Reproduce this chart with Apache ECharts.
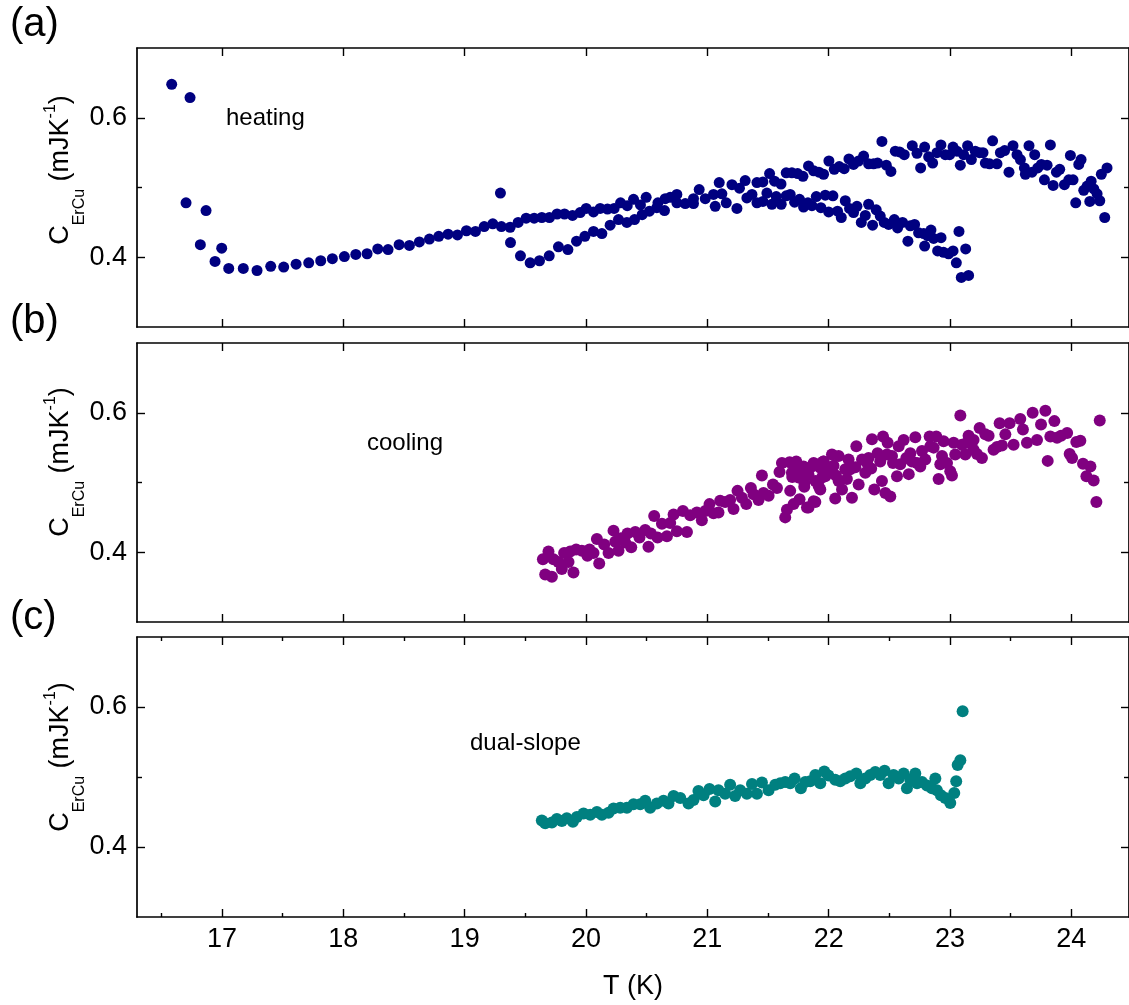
<!DOCTYPE html>
<html><head><meta charset="utf-8">
<script src="https://cdn.jsdelivr.net/npm/echarts@6/dist/echarts.min.js"></script>
<style>html,body{margin:0;padding:0;background:#fff}#c{width:1129px;height:1005px}</style>
</head><body><div id="c"></div>
<script>
// ---------- data ----------
const heatingT = [16.586,16.737,16.704,16.869,16.822,16.998,16.943,17.056,17.176,17.289,17.402,17.509,17.611,17.715,17.814,17.910,18.009,18.103,18.196,18.284,18.369,18.460,18.545,18.627,18.710,18.787,18.864,18.941,19.015,19.089,19.161,19.232,19.295,19.303,19.375,19.441,19.507,19.573,19.636,19.699,19.762,19.823,19.889,19.952,20.002,20.062,20.117,20.177,20.232,20.285,20.340,20.392,20.449,20.496,
20.593,20.653,20.694,20.749,20.749,20.818,20.886,20.886,20.933,20.983,21.051,21.065,21.098,21.120,21.156,21.203,21.244,21.265,21.312,21.326,21.368,21.409,21.409,
19.378,19.460,19.540,19.617,19.697,19.773,19.851,19.922,19.991,20.062,20.131,20.199,20.268,20.337,20.400,20.463,20.523,20.584,20.647,
21.458,21.513,21.554,21.607,21.650,21.697,21.744,21.788,21.834,21.876,21.920,21.958,22.002,22.046,22.087,22.128,22.167,22.205,22.246,22.288,22.329,22.370,22.403,22.439,22.475,22.513,22.549,22.585,22.623,22.689,22.728,22.758,22.791,22.824,22.857,22.892,22.925,22.961,22.997,23.025,23.057,23.085,23.112,23.145,23.176,23.208,23.244,23.272,23.291,23.326,23.351,23.387,23.415,23.450,23.486,23.519,23.552,23.580,23.613,23.621,23.651,23.676,23.698,23.723,23.753,23.778,23.800,23.827,23.850,23.877,23.904,23.943,23.979,23.992,24.014,24.036,24.061,24.080,24.102,24.130,24.152,24.163,24.185,24.212,24.234,24.247,24.275,24.294,
21.458,21.491,21.532,21.568,21.609,21.650,21.683,21.719,21.760,21.793,21.829,21.862,21.898,21.936,21.972,22.000,22.035,22.073,22.104,22.137,22.172,22.205,22.233,22.269,22.302,22.329,22.362,22.392,22.425,22.458,22.494,22.541,22.568,22.609,22.653,22.673,22.708,22.741,22.783,22.791,22.815,22.843,22.865,22.898,22.926,22.947,22.988,23.025,23.052,23.074,23.093,23.129,23.153];
const heatingC = [0.648,0.629,0.478,0.467,0.418,0.413,0.394,0.384,0.384,0.381,0.387,0.386,0.390,0.392,0.395,0.398,0.401,0.404,0.405,0.412,0.411,0.418,0.417,0.422,0.426,0.430,0.433,0.432,0.438,0.437,0.444,0.448,0.492,0.444,0.443,0.450,0.456,0.456,0.457,0.457,0.462,0.462,0.460,0.464,0.470,0.465,0.470,0.469,0.470,0.478,0.474,0.483,0.475,0.486,
0.478,0.484,0.486,0.490,0.478,0.477,0.477,0.484,0.497,0.484,0.490,0.473,0.507,0.491,0.478,0.504,0.470,0.499,0.510,0.485,0.490,0.478,0.507,
0.421,0.402,0.392,0.395,0.402,0.415,0.411,0.423,0.430,0.437,0.434,0.446,0.454,0.450,0.454,0.461,0.466,0.471,0.467,
0.508,0.520,0.509,0.505,0.521,0.521,0.520,0.516,0.531,0.524,0.522,0.519,0.538,0.526,0.530,0.527,0.541,0.533,0.538,0.545,0.534,0.534,0.535,0.566,0.532,0.523,0.552,0.551,0.547,0.560,0.549,0.528,0.558,0.544,0.535,0.550,0.561,0.547,0.547,0.558,0.552,0.532,0.547,0.560,0.540,0.552,0.550,0.550,0.535,0.534,0.567,0.534,0.550,0.553,0.522,0.560,0.547,0.540,0.528,0.519,0.560,0.522,0.547,0.528,0.533,0.511,0.532,0.561,0.503,0.522,0.526,0.504,0.511,0.546,0.511,0.478,0.533,0.540,0.496,0.502,0.480,0.509,0.498,0.491,0.481,0.519,0.457,0.528,
0.480,0.492,0.476,0.487,0.476,0.488,0.490,0.479,0.483,0.472,0.478,0.474,0.487,0.471,0.489,0.465,0.488,0.466,0.457,0.481,0.470,0.464,0.473,0.450,0.460,0.476,0.446,0.468,0.459,0.450,0.447,0.454,0.442,0.450,0.423,0.445,0.447,0.435,0.434,0.416,0.431,0.439,0.427,0.409,0.428,0.407,0.405,0.409,0.392,0.437,0.371,0.412,0.374];

const coolingT = [19.645,19.691,19.664,19.719,19.732,19.773,19.801,19.820,19.856,19.870,19.897,19.919,19.966,20.012,20.029,20.062,20.090,20.109,20.150,20.186,20.227,20.241,20.268,20.288,20.323,20.342,20.373,20.406,20.441,20.488,20.515,20.535,20.562,20.590,20.626,20.667,20.694,20.722,20.749,20.799,20.832,20.859,20.914,20.955,20.983,21.018,21.051,21.092,21.106,21.147,21.188,21.216,21.249,21.285,21.321,21.359,21.381,21.422,21.450,21.463,21.505,21.541,21.574,21.595,21.615,21.642,21.656,21.678,21.683,21.697,21.711,21.733,21.752,21.760,21.780,21.799,21.821,21.834,21.862,21.876,21.890,21.917,21.931,21.958,21.972,
21.793,21.834,21.821,21.890,21.876,21.917,21.945,21.958,21.999,22.040,22.054,22.082,22.110,22.137,22.164,22.192,22.228,22.247,22.275,22.302,22.329,22.357,22.376,22.403,22.439,22.448,22.467,22.486,22.508,22.522,22.563,22.577,22.618,22.640,22.673,22.714,22.728,22.769,22.796,22.832,22.865,22.887,22.906,22.934,22.947,22.975,23.016,23.030,23.043,23.085,23.098,23.126,23.153,23.194,23.222,23.244,23.263,23.291,23.318,23.359,23.387,23.409,23.428,23.456,23.491,23.524,23.579,23.601,23.634,23.681,23.717,23.750,23.786,23.805,23.827,23.860,23.882,23.915,23.965,23.986,24.006,24.041,24.074,24.096,24.124,24.157,24.184,24.206,24.234,
21.745,21.931,22.027,22.082,22.178,22.316,22.425,22.590,22.687,22.755,22.838,22.920,23.002,23.140,23.194,21.700,21.800,21.980,22.060,22.150,22.220,22.350,22.480,22.530,22.660];
const coolingC = [0.390,0.401,0.368,0.365,0.390,0.386,0.376,0.399,0.386,0.401,0.371,0.404,0.402,0.395,0.404,0.399,0.419,0.384,0.411,0.399,0.431,0.415,0.402,0.420,0.414,0.427,0.407,0.429,0.421,0.432,0.408,0.427,0.452,0.421,0.441,0.423,0.442,0.454,0.430,0.459,0.429,0.453,0.457,0.446,0.459,0.469,0.456,0.457,0.474,0.472,0.475,0.462,0.488,0.478,0.469,0.492,0.483,0.475,0.510,0.485,0.481,0.497,0.492,0.515,0.528,0.450,0.461,0.529,0.488,0.514,0.469,0.530,0.507,0.476,0.521,0.494,0.514,0.464,0.523,0.473,0.502,0.526,0.490,0.530,0.509,
0.523,0.511,0.464,0.472,0.528,0.495,0.507,0.530,0.514,0.524,0.477,0.538,0.490,0.519,0.533,0.478,0.552,0.497,0.533,0.514,0.535,0.562,0.490,0.542,0.502,0.566,0.485,0.557,0.480,0.538,0.509,0.552,0.561,0.535,0.542,0.565,0.528,0.545,0.533,0.566,0.550,0.566,0.505,0.538,0.559,0.528,0.510,0.557,0.540,0.596,0.554,0.540,0.567,0.547,0.541,0.578,0.535,0.569,0.567,0.547,0.551,0.585,0.553,0.569,0.585,0.554,0.591,0.576,0.557,0.600,0.561,0.583,0.603,0.531,0.566,0.588,0.564,0.567,0.571,0.541,0.535,0.558,0.560,0.527,0.509,0.523,0.503,0.472,0.589,
0.519,0.521,0.540,0.502,0.519,0.528,0.530,0.526,0.530,0.523,0.552,0.526,0.516,0.557,0.561,0.508,0.500,0.518,0.510,0.505,0.522,0.520,0.540,0.528,0.512];

const dualT = [19.636,19.664,19.719,19.760,19.801,19.842,19.892,19.925,19.980,20.035,20.090,20.131,20.186,20.227,20.282,20.337,20.392,20.447,20.488,20.529,20.584,20.639,20.680,20.722,20.777,20.845,20.886,20.927,20.969,21.018,21.065,21.092,21.147,21.188,21.229,21.271,21.326,21.368,21.409,21.450,21.505,21.560,21.601,21.642,21.683,21.719,21.771,21.807,21.848,21.890,21.931,21.964,21.997,22.054,22.095,22.137,22.178,22.228,22.261,22.302,22.343,22.384,22.425,22.461,22.494,22.535,22.577,22.618,22.645,22.673,22.714,22.728,22.769,22.810,22.851,22.879,22.892,22.925,22.961,23.002,23.035,23.051,23.063,23.085,23.104];
const dualC = [0.438,0.434,0.435,0.440,0.437,0.441,0.436,0.443,0.448,0.446,0.450,0.446,0.449,0.455,0.456,0.456,0.461,0.461,0.466,0.456,0.462,0.466,0.462,0.473,0.470,0.462,0.467,0.480,0.474,0.483,0.465,0.481,0.476,0.489,0.473,0.481,0.476,0.490,0.476,0.492,0.481,0.489,0.491,0.493,0.491,0.498,0.484,0.493,0.494,0.503,0.491,0.508,0.502,0.496,0.494,0.498,0.501,0.505,0.491,0.498,0.503,0.507,0.503,0.509,0.491,0.503,0.498,0.505,0.484,0.496,0.505,0.491,0.493,0.488,0.484,0.498,0.481,0.474,0.470,0.463,0.477,0.494,0.517,0.524,0.594];

const xMajorTicks = [17, 18, 19, 20, 21, 22, 23, 24];
const xMinorTicks = [16.5, 17.5, 18.5, 19.5, 20.5, 21.5, 22.5, 23.5];
const yMajorTicks = [0.4, 0.6];
const yMinorTicks = [0.5];
const panelLabels = ['(a)', '(b)', '(c)'];
const modeLabels = ['heating', 'cooling', 'dual-slope'];
const xTitle = 'T (K)';

// ---------- layout / style ----------
const FONT = '"Liberation Sans", Arial, sans-serif';
const X_MIN = 16.3, X_MAX = 24.475, Y_MIN = 0.3, Y_MAX = 0.7;
const grids = [
  {left: 137, top: 48, width: 992, height: 279, outerBoundsMode: 'none'},
  {left: 137, top: 343, width: 992, height: 279, outerBoundsMode: 'none'},
  {left: 137, top: 637, width: 992, height: 280, outerBoundsMode: 'none'}
];
const seriesDefs = [
  {T: heatingT, C: heatingC, color: '#000080', size: 11},
  {T: coolingT, C: coolingC, color: '#800080', size: 12},
  {T: dualT, C: dualC, color: '#008080', size: 12}
];
const labelPos = [
  {panel: [10, 25], mode: [226, 118], ytitle: [61, 170]},
  {panel: [10, 322], mode: [367, 443], ytitle: [61, 462]},
  {panel: [10, 618], mode: [470, 743], ytitle: [61, 757]}
];

const lineStyle = {color: '#000', width: 1.7};
const xAxes = [], yAxes = [], series = [], graphics = [];

grids.forEach((g, i) => {
  const isLast = i === grids.length - 1;
  const base = {type: 'value', gridIndex: i, min: X_MIN, max: X_MAX, splitLine: {show: false}, silent: true};
  const xMainIdx = xAxes.length;
  xAxes.push(Object.assign({}, base, {
    position: 'bottom',
    axisLine: {show: true, onZero: false, lineStyle},
    axisTick: {show: true, inside: true, length: 8, customValues: xMajorTicks, lineStyle: {color: '#000', width: 1.4}},
    axisLabel: {show: isLast, customValues: xMajorTicks, fontFamily: FONT, fontSize: 27, color: '#000', margin: 9},
    name: isLast ? xTitle : '', nameLocation: 'middle', nameGap: 56,
    nameTextStyle: {fontFamily: FONT, fontSize: 27, color: '#000'}
  }));
  xAxes.push(Object.assign({}, base, {
    position: 'top',
    axisLine: {show: true, onZero: false, lineStyle},
    axisTick: {show: true, inside: true, length: 8, customValues: xMajorTicks, lineStyle: {color: '#000', width: 1.4}},
    axisLabel: {show: false}
  }));
  if (isLast) {
    ['bottom', 'top'].forEach(pos => xAxes.push(Object.assign({}, base, {
      position: pos,
      axisLine: {show: false, onZero: false},
      axisTick: {show: true, inside: true, length: 4, customValues: xMinorTicks, lineStyle: {color: '#000', width: 1.4}},
      axisLabel: {show: false}
    })));
  }
  const ybase = {type: 'value', gridIndex: i, min: Y_MIN, max: Y_MAX, interval: 0.1, splitLine: {show: false}, silent: true};
  const yMainIdx = yAxes.length;
  yAxes.push(Object.assign({}, ybase, {
    position: 'left',
    axisLine: {show: true, onZero: false, lineStyle},
    axisTick: {show: true, inside: true, length: 8, customValues: yMajorTicks, lineStyle: {color: '#000', width: 1.4}},
    axisLabel: {show: true, customValues: yMajorTicks, formatter: v => Number(v).toFixed(1), fontFamily: FONT, fontSize: 27, color: '#000', margin: 10}
  }));
  yAxes.push(Object.assign({}, ybase, {
    position: 'right',
    axisLine: {show: true, onZero: false, lineStyle},
    axisTick: {show: true, inside: true, length: 8, customValues: yMajorTicks, lineStyle: {color: '#000', width: 1.4}},
    axisLabel: {show: false}
  }));
  ['left', 'right'].forEach(pos => yAxes.push(Object.assign({}, ybase, {
    position: pos,
    axisLine: {show: false, onZero: false},
    axisTick: {show: true, inside: true, length: 5, customValues: yMinorTicks, lineStyle: {color: '#000', width: 1.4}},
    axisLabel: {show: false}
  })));

  const s = seriesDefs[i];
  series.push({
    type: 'scatter', xAxisIndex: xMainIdx, yAxisIndex: yMainIdx,
    data: s.T.map((t, k) => [t, s.C[k]]),
    symbol: 'circle', symbolSize: s.size,
    itemStyle: {color: s.color, opacity: 1},
    silent: true, clip: false
  });

  const lp = labelPos[i];
  graphics.push({type: 'text', x: lp.panel[0], y: lp.panel[1], style: {text: panelLabels[i], font: '40px ' + FONT, fill: '#000', textVerticalAlign: 'middle', textAlign: 'left'}});
  graphics.push({type: 'text', x: lp.mode[0], y: lp.mode[1], style: {text: modeLabels[i], font: '24px ' + FONT, fill: '#000', textVerticalAlign: 'middle', textAlign: 'left'}});
  graphics.push({type: 'text', x: lp.ytitle[0], y: lp.ytitle[1], rotation: Math.PI / 2,
    style: {
      text: '{m|C}{s|ErCu}{m| (mJK}{p|-1}{m|)}',
      align: 'center', verticalAlign: 'middle',
      rich: {
        m: {fontFamily: FONT, fontSize: 27, lineHeight: 54, fill: '#000', verticalAlign: 'middle'},
        s: {fontFamily: FONT, fontSize: 16, lineHeight: 16, fill: '#000', verticalAlign: 'bottom'},
        p: {fontFamily: FONT, fontSize: 16, lineHeight: 16, fill: '#000', verticalAlign: 'top', padding: [9, 0, 0, 0]}
      }
    }});
});

const chart = echarts.init(document.getElementById('c'), null, {renderer: 'canvas'});
chart.setOption({
  animation: false,
  backgroundColor: '#fff',
  grid: grids,
  xAxis: xAxes,
  yAxis: yAxes,
  series: series,
  graphic: graphics
});
</script></body></html>
